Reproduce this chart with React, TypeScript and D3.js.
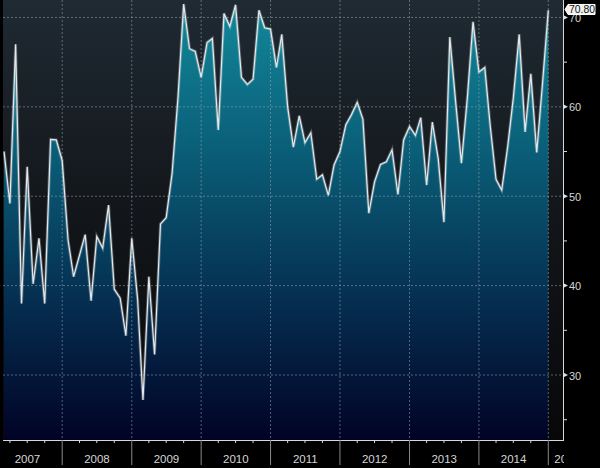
// App.tsx
// Monthly index, Mar 2007 - Jan 2015, Bloomberg-style area chart
import React from "react";
import * as d3 from "d3";

const startMonth = "2007-03";
const values: number[] = [
  // 2007 (Mar-Dec)
  55.0, 49.2, 67.0, 38.0, 53.3, 40.2, 45.3, 38.0, 56.35, 56.3,
  // 2008
  54.0, 45.1, 41.0, 43.4, 45.7, 38.3, 45.5, 44.2, 49.0, 39.6, 38.6, 34.4,
  // 2009
  45.3, 38.4, 27.2, 41.0, 32.3, 46.9, 47.6, 52.55, 61.0, 71.5, 66.5, 66.2,
  // 2010
  63.3, 67.2, 67.65, 57.4, 70.45, 69.0, 71.4, 63.3, 62.5, 63.1, 70.8, 68.85,
  // 2011
  68.7, 64.4, 68.1, 60.0, 55.5, 59.0, 56.0, 57.1, 51.9, 52.4, 50.1, 53.5,
  // 2012
  55.0, 58.0, 59.1, 60.5, 58.6, 48.1, 51.6, 53.55, 53.85, 55.2, 50.2, 56.3,
  // 2013
  57.8, 56.8, 58.8, 51.25, 58.3, 54.2, 47.1, 67.8, 60.5, 53.7, 61.0, 69.5,
  // 2014
  63.9, 64.4, 58.0, 51.9, 50.7, 55.5, 61.0, 68.1, 57.2, 63.7, 54.9, 62.5,
  // 2015
  70.8,
];
const years = ["2007", "2008", "2009", "2010", "2011", "2012", "2013", "2014", "2015"];
const yMajor = [30, 40, 50, 60, 70];
const yMinor = [25, 35, 45, 55, 65];
const lastLabel = "70.80";

const W = 600, H = 468;
const plotL = 3, plotR = 563, plotB = 440;
const font = "'Liberation Sans Narrow', 'Arial Narrow', 'Liberation Sans', sans-serif";

export default function App() {
  const parse = d3.timeParse("%Y-%m");
  const start = parse(startMonth) as Date;
  const data = values.map((v, i) => ({ date: d3.timeMonth.offset(start, i), v }));

  const x = d3.scaleTime()
    .domain([new Date(2007, 0, 1), new Date(2015, 0, 1)])
    .range([-7.2, 548.3]);
  const y = d3.scaleLinear().domain([22.73, 71.95]).range([plotB, 0]);

  const area = d3.area<{ date: Date; v: number }>()
    .x(d => x(d.date)).y0(plotB).y1(d => y(d.v));
  const line = d3.line<{ date: Date; v: number }>()
    .x(d => x(d.date)).y(d => y(d.v));

  const yearStarts = years.map(yr => new Date(+yr, 0, 1));
  const quarters = d3.timeMonth.every(3)!.range(new Date(2007, 0, 1), new Date(2015, 3, 1))
    .filter(d => d.getMonth() !== 0);
  const last = data[data.length - 1];
  const ly = y(last.v) - 0.8;

  return (
    <div style={{ position: "absolute", left: 0, top: 0 }}>
      <svg width={W} height={H} style={{ display: "block", background: "#000" }}>
        <defs>
          <linearGradient id="bg" x1="0" y1="0" x2="0" y2="1">
            <stop offset="0" stopColor="#1f2a33" />
            <stop offset="0.5" stopColor="#121519" />
            <stop offset="1" stopColor="#08080a" />
          </linearGradient>
          <linearGradient id="fill" gradientUnits="userSpaceOnUse" x1="0" y1="0" x2="0" y2={plotB}>
            <stop offset="0" stopColor="#12899b" />
            <stop offset="0.35" stopColor="#0a5d77" />
            <stop offset="0.7" stopColor="#052c4e" />
            <stop offset="1" stopColor="#010326" />
          </linearGradient>
          <clipPath id="plot">
            <rect x={plotL} y={0} width={plotR - plotL} height={plotB} />
          </clipPath>
          <clipPath id="band">
            <rect x={0} y={plotB} width={plotR + 1} height={H - plotB} />
          </clipPath>
        </defs>

        <rect x={plotL} y={0} width={plotR - plotL} height={plotB} fill="url(#bg)" />

        <g clipPath="url(#plot)">
          <path d={area(data) ?? ""} fill="url(#fill)" />
          {yMajor.map(t => (
            <line key={t} x1={plotL} x2={plotR} y1={y(t)} y2={y(t)}
              stroke="#9aa6ad" strokeOpacity={0.55} strokeWidth={1} strokeDasharray="2,2" />
          ))}
          {yearStarts.slice(1).map((d, i) => (
            <line key={i} x1={x(d)} x2={x(d)} y1={0} y2={plotB}
              stroke="#9aa6ad" strokeOpacity={0.55} strokeWidth={1} strokeDasharray="2,2" />
          ))}
          <path d={line(data) ?? ""} fill="none" stroke="#ffffff" strokeOpacity={0.25} strokeWidth={3} />
          <path d={line(data) ?? ""} fill="none" stroke="#e4e8ea" strokeWidth={1.2} strokeLinejoin="miter" />
        </g>

        {/* axes */}
        <line x1={plotL} x2={plotR} y1={plotB + 0.5} y2={plotB + 0.5} stroke="#d8d8d8" />
        <line x1={plotR + 0.5} x2={plotR + 0.5} y1={0} y2={plotB + 1} stroke="#d8d8d8" />

        {quarters.map((d, i) => (
          <line key={i} x1={x(d)} x2={x(d)} y1={plotB} y2={plotB + 3} stroke="#d8d8d8" />
        ))}
        {yearStarts.slice(1).map((d, i) => (
          <line key={i} x1={x(d)} x2={x(d)} y1={plotB} y2={H - 3} stroke="#8a8a8a" />
        ))}
        <g clipPath="url(#band)">
          {years.map((yr, i) => {
            const a = x(yearStarts[i]);
            const b = i + 1 < years.length ? x(new Date(+yr + 1, 0, 1)) : a + 70;
            const isLast = i === years.length - 1;
            return (
              <text key={yr} x={isLast ? a + 6 : (a + b) / 2} y={462.5}
                textAnchor={isLast ? "start" : "middle"}
                fill="#d6d6d6" fontSize={11.5} fontFamily={font}>{yr}</text>
            );
          })}
        </g>

        {yMinor.map(t => (
          <line key={t} x1={plotR} x2={plotR + 4} y1={y(t)} y2={y(t)} stroke="#d8d8d8" />
        ))}
        {yMajor.map(t => (
          <g key={t}>
            <path d={`M${plotR},${y(t) - 2.5}L${plotR + 5},${y(t)}L${plotR},${y(t) + 2.5}Z`} fill="#e0e0e0" />
            <text x={plotR + 6} y={y(t) + 4.5} fill="#d6d6d6" fontSize={11} fontFamily={font}>{t}</text>
          </g>
        ))}

        {/* last value tag */}
        <path d={`M${plotR + 2},${ly}L${plotR + 5},${ly - 5}H${595}V${ly + 5}H${plotR + 5}Z`}
          fill="#f2f2f2" stroke="#ffffff" />
        <text x={plotR + 6} y={ly + 4} fill="#111" fontSize={11} fontFamily={font}
          textLength={26} lengthAdjust="spacingAndGlyphs">{lastLabel}</text>
      </svg>
    </div>
  );
}
